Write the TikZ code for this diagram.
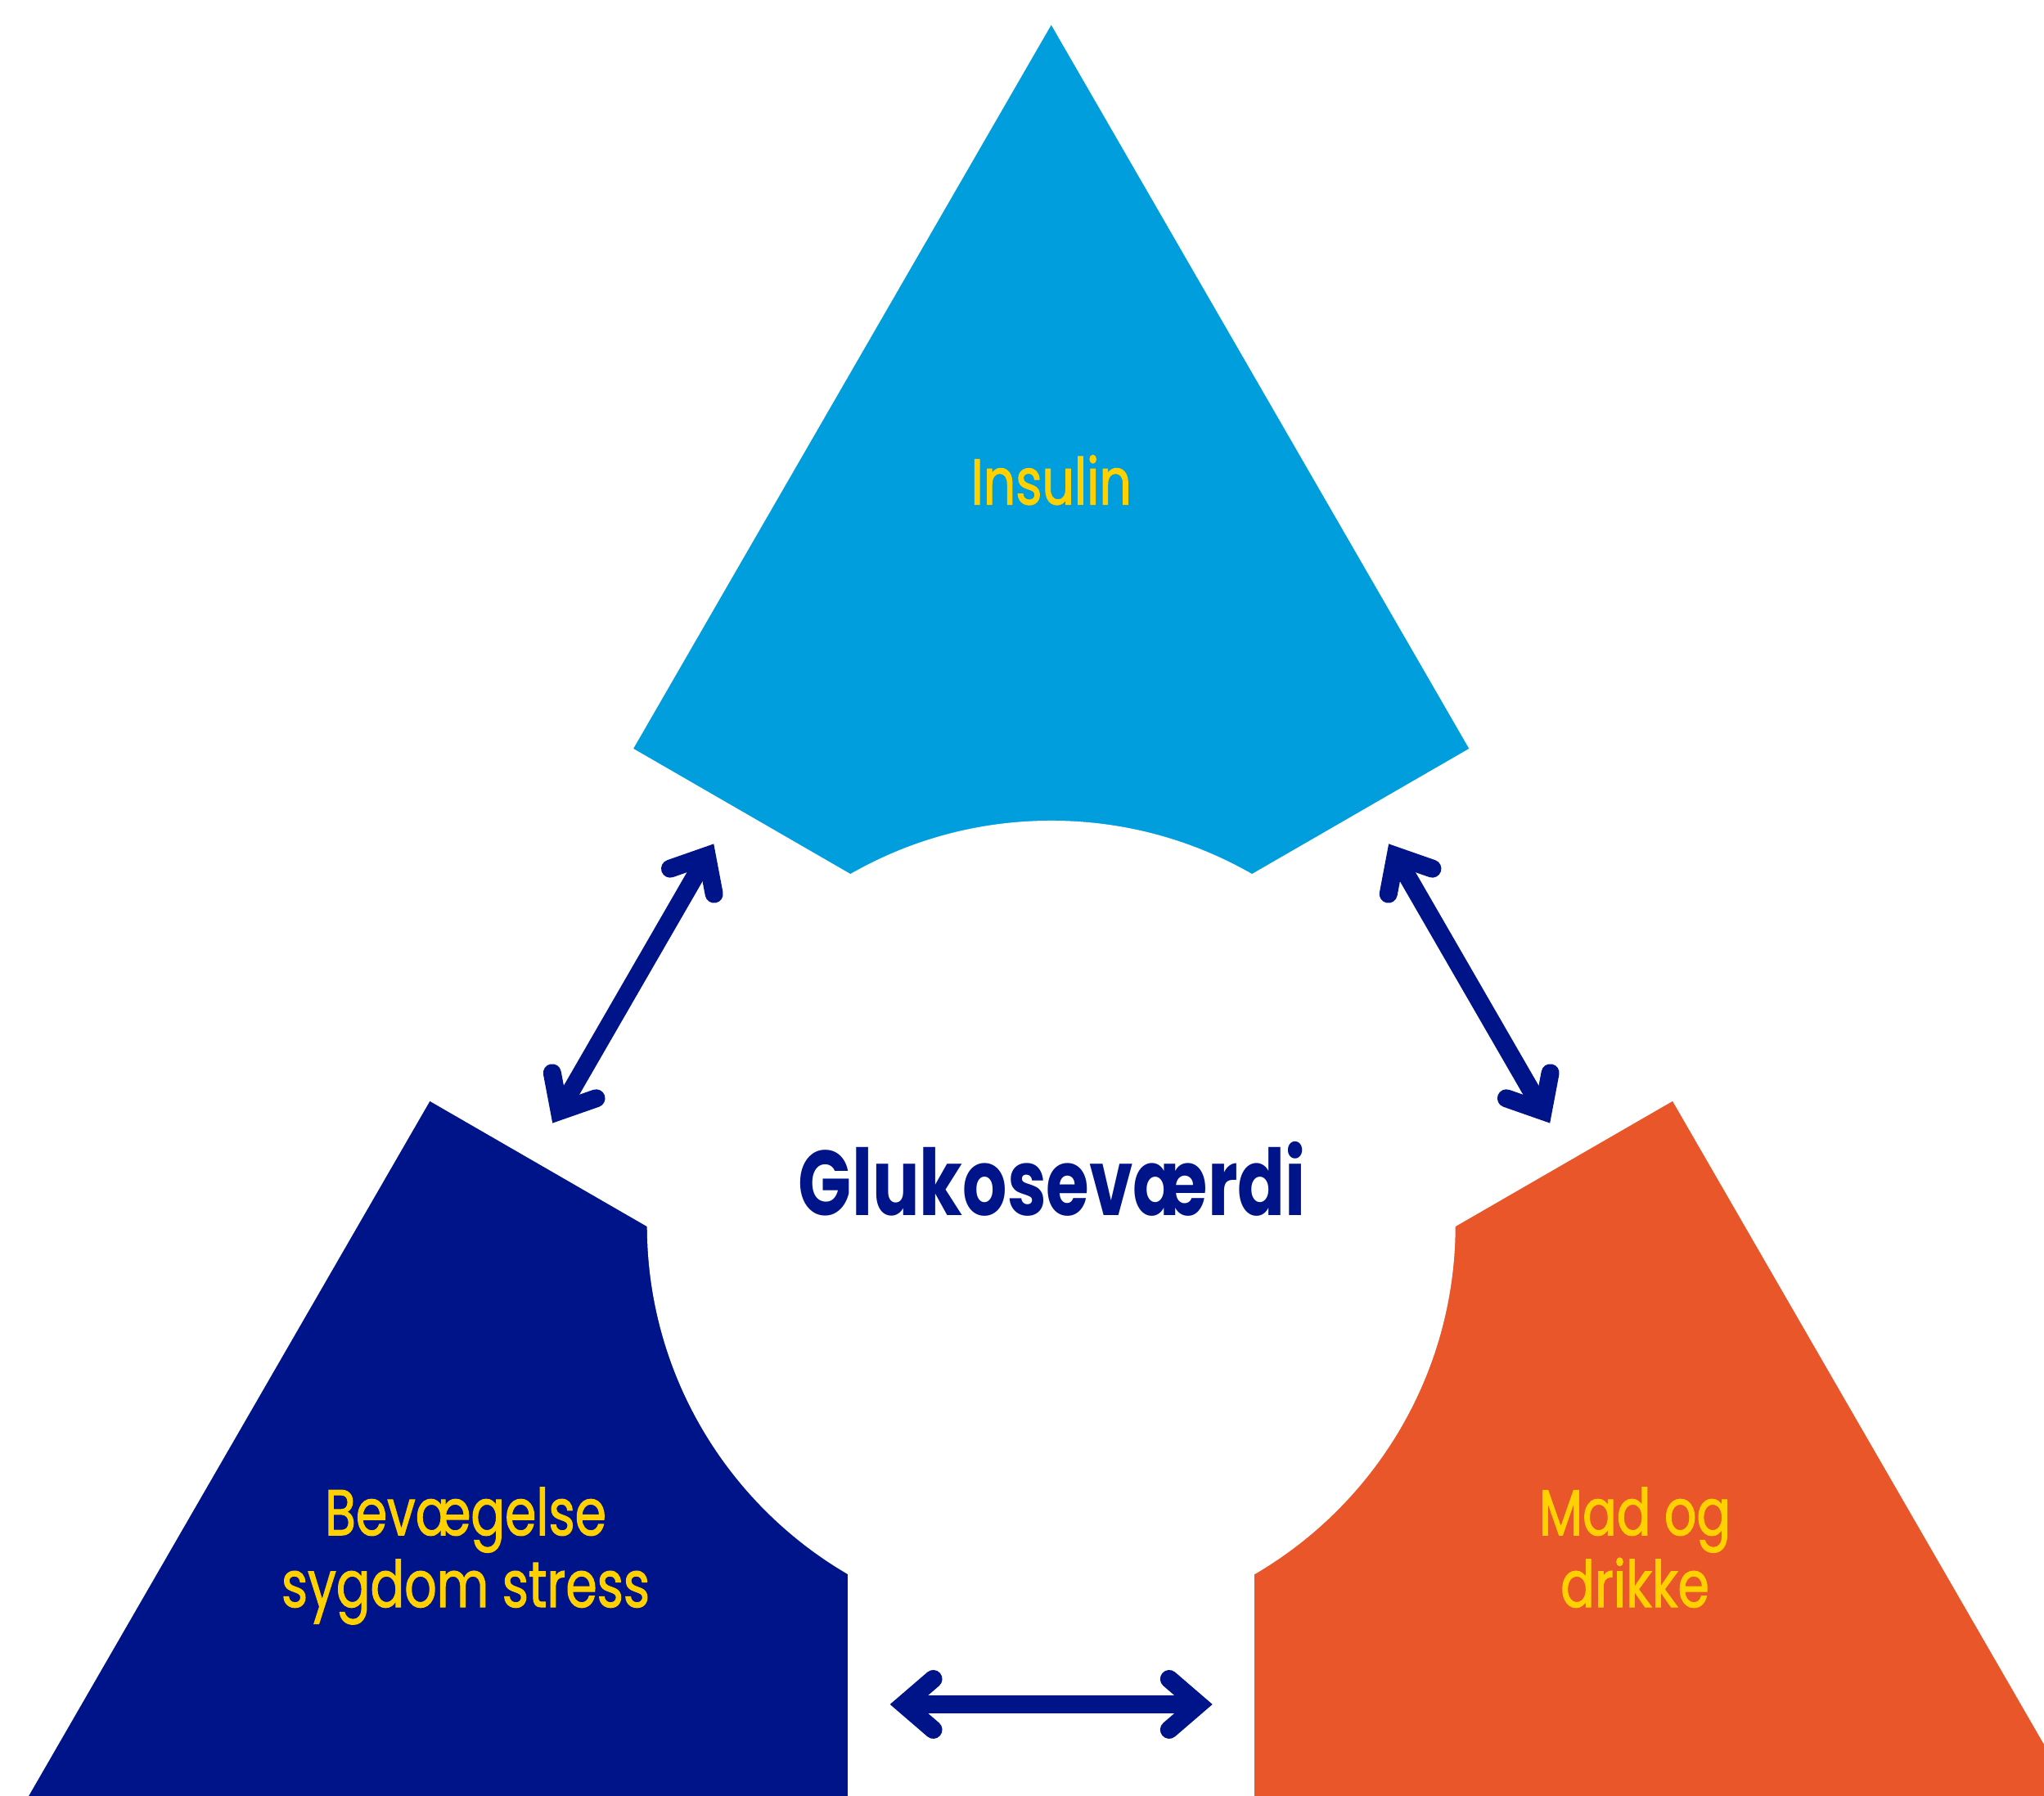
\documentclass[tikz,border=0pt]{standalone}
\usepackage{fontspec}
\setmainfont{Poppins}[FakeStretch=0.8, BoldFeatures={FakeStretch=0.76}]
\newfontfamily\labelfont{Poppins}[FakeStretch=0.78, FakeBold=1.4]
\usetikzlibrary{calc,arrows.meta}
\definecolor{insulincol}{RGB}{0,158,220}
\definecolor{movecol}{RGB}{0,20,137}
\definecolor{foodcol}{RGB}{232,86,41}
\definecolor{labelcol}{RGB}{255,209,0}

\begin{document}
\begin{tikzpicture}[
  lbl/.style={text=labelcol, align=center, inner sep=0pt, font=\labelfont\fontsize{22.5}{25}\selectfont},
  centre/.style={text=movecol, inner sep=0pt, font=\fontsize{32}{36}\selectfont\bfseries},
  gapfill/.style={fill=white},
  barb/.tip={Straight Barb[length=3.6mm, width=6.2mm, line cap=round, line join=miter]},
  arr/.style={barb-barb, line width=2.2mm, draw=movecol}
]
\useasboundingbox (0,0) rectangle (24.98,21.95);
\clip (0,0) rectangle (24.98,21.95);

% ---------------- big triangle, split in three ----------------
\coordinate (C) at (12.847,6.98);
\coordinate (top) at ($(C)+(90:14.663)$);
\coordinate (botL) at ($(C)+(210:14.663)$);
\coordinate (botR) at ($(C)+(330:14.663)$);
\coordinate (midL) at ($(top)!0.5!(botL)$);
\coordinate (midR) at ($(top)!0.5!(botR)$);
\coordinate (midB) at ($(botL)!0.5!(botR)$);

\fill[insulincol] (C) -- (midL) -- (top) -- (midR) -- cycle;
\fill[movecol] (C) -- (midL) -- (botL) -- (midB) -- cycle;
\fill[foodcol] (C) -- (midB) -- (botR) -- (midR) -- cycle;

% ---------------- white strips and centre disc ----------------
\begin{scope}[shift={(C)}, rotate=150]
  \fill[gapfill] (0,-2.487) -- (12,-2.487) -- (12,2.487) -- (0,2.487) -- cycle;
\end{scope}
\begin{scope}[shift={(C)}, rotate=30]
  \fill[gapfill] (0,-2.487) -- (12,-2.487) -- (12,2.487) -- (0,2.487) -- cycle;
\end{scope}
\begin{scope}[shift={(C)}, rotate=270]
  \fill[gapfill] (0,-2.487) -- (12,-2.487) -- (12,2.487) -- (0,2.487) -- cycle;
\end{scope}
\fill[gapfill] (C) circle (4.94);

% ---------------- labels ----------------
\node[lbl, anchor=base] (insulin) at (12.847,15.785) {Insulin};
\node[centre, anchor=base] (gluc) at (12.86,7.09) {Glukoseværdi};
\node[lbl, anchor=north] (move) at (5.69,3.78) {Bevægelse\\sygdom stress};
\node[lbl, anchor=north] (food) at (19.98,3.78) {Mad og\\drikke};

% ---------------- arrows ----------------
\coordinate (leftA) at ($(C)+(150:5.9)+(60:1.97)$);
\coordinate (leftB) at ($(C)+(150:5.9)+(240:1.97)$);
\coordinate (rightA) at ($(C)+(30:5.9)+(120:1.97)$);
\coordinate (rightB) at ($(C)+(30:5.9)+(300:1.97)$);
\coordinate (lowA) at ($(C)+(270:5.86)+(180:1.97)$);
\coordinate (lowB) at ($(C)+(270:5.86)+(0:1.97)$);

\draw[arr] (leftB) -- (leftA);
\draw[arr] (rightA) -- (rightB);
\draw[arr] (lowA) -- (lowB);

\end{tikzpicture}
\end{document}
